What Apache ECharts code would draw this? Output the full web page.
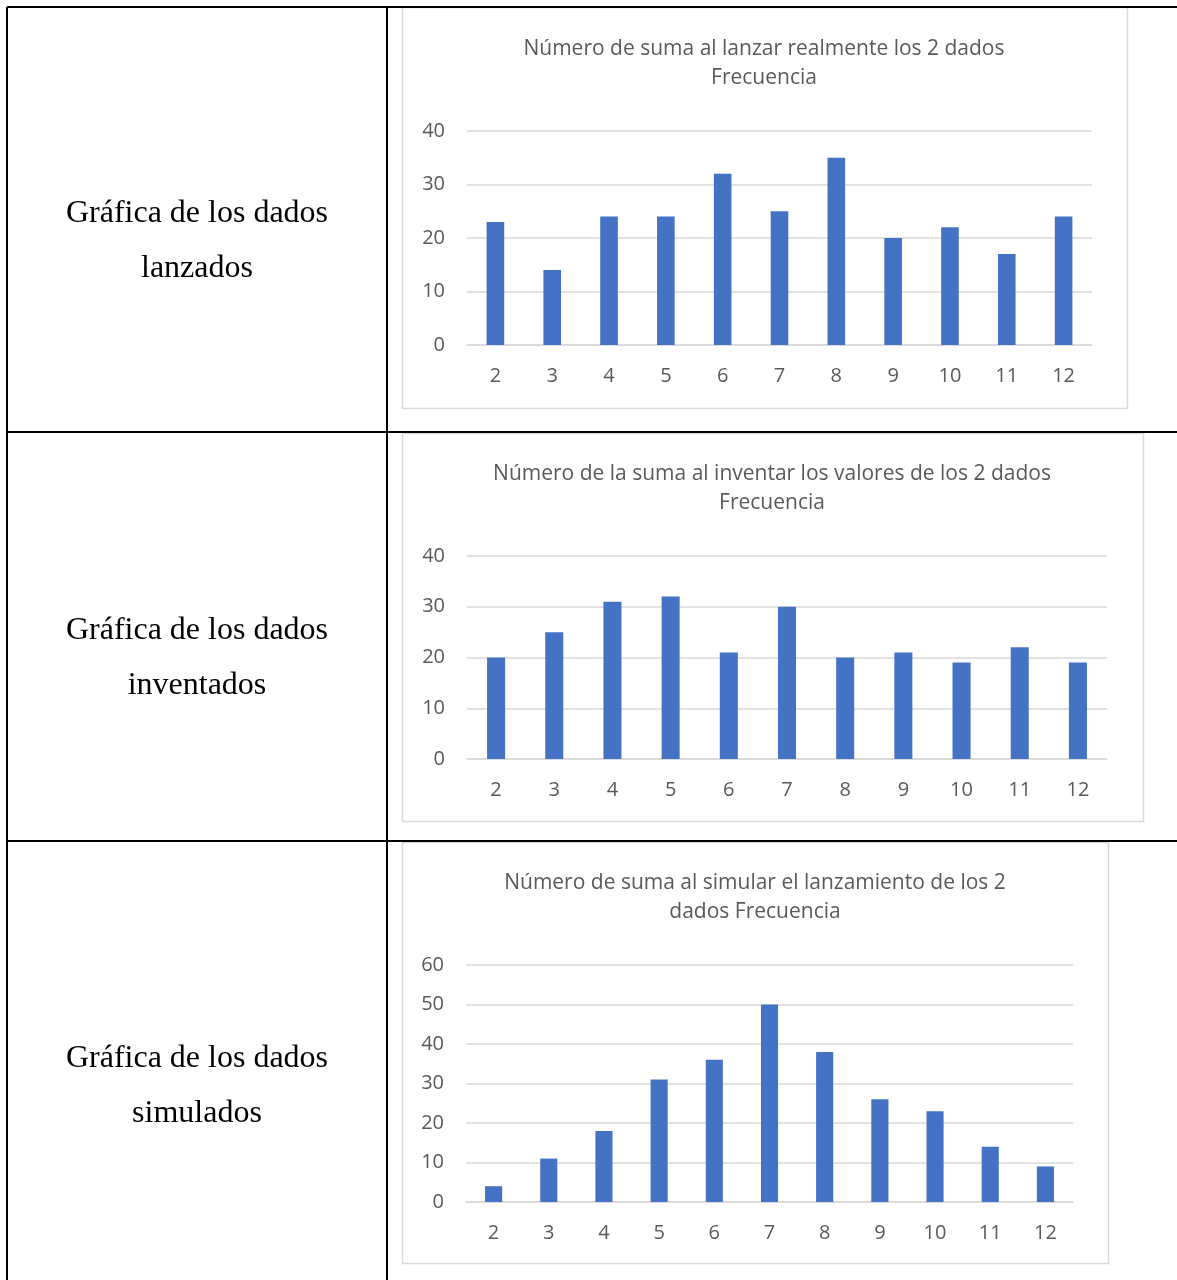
<!DOCTYPE html>
<html>
<head>
<meta charset="utf-8">
<title>Frecuencia de la suma de 2 dados</title>
<script src="https://cdn.jsdelivr.net/npm/echarts@6/dist/echarts.min.js"></script>
<style>
  html, body { margin: 0; padding: 0; background: #ffffff; }
  #chart { width: 1177px; height: 1280px; }
</style>
</head>
<body>
<div id="chart"></div>
<script>
// Sums of two dice (x categories)
const sums = ['2', '3', '4', '5', '6', '7', '8', '9', '10', '11', '12'];

// Frequencies per sum
const lanzados = [23, 14, 24, 24, 32, 25, 35, 20, 22, 17, 24];
const inventados = [20, 25, 31, 32, 21, 30, 20, 21, 19, 22, 19];
const simulados = [4, 11, 18, 31, 36, 50, 38, 26, 23, 14, 9];

// Chart titles
const titles = [
  'Número de suma al lanzar realmente los 2 dados\nFrecuencia',
  'Número de la suma al inventar los valores de los 2 dados\nFrecuencia',
  'Número de suma al simular el lanzamiento de los 2\ndados Frecuencia'
];

// Row captions in the left column
const captions = [
  'Gráfica de los dados\nlanzados',
  'Gráfica de los dados\ninventados',
  'Gráfica de los dados\nsimulados'
];

// Value axis ranges
const yMax = [40, 40, 60];
const yStep = 10;

const seriesData = [lanzados, inventados, simulados];

// Layout of each table row: chart frame, plot area and title anchor
const panels = [
  { frame: [402, 7, 725, 401], grid: { left: 467, top: 131, width: 625, height: 214 }, titleX: 764, titleY: 35, captionY: 241 },
  { frame: [402, 433, 741, 388], grid: { left: 467, top: 556, width: 640, height: 203 }, titleX: 772, titleY: 460, captionY: 658 },
  { frame: [402, 842, 706, 421], grid: { left: 466, top: 965, width: 607, height: 237 }, titleX: 755, titleY: 869, captionY: 1086 }
];

const uiFont = "'Open Sans', 'Noto Sans', sans-serif";
const textGrey = '#595959';
const gridGrey = '#d9d9d9';
const barBlue = '#4472C4';

const chart = echarts.init(document.getElementById('chart'), null, { renderer: 'canvas' });

const graphics = [];
// Table borders
const tableLines = [
  [7, 7, 1177, 7],
  [7, 432, 1177, 432],
  [7, 841, 1177, 841],
  [7, 7, 7, 1280],
  [387, 7, 387, 1280]
];
tableLines.forEach(function (l) {
  graphics.push({
    type: 'line', silent: true, z: 10,
    shape: { x1: l[0], y1: l[1], x2: l[2], y2: l[3] },
    style: { stroke: '#000000', lineWidth: 2 }
  });
});

panels.forEach(function (p, i) {
  // light frame around each chart
  graphics.push({
    type: 'rect', silent: true, z: 0,
    shape: { x: p.frame[0] + 0.5, y: p.frame[1] + 0.5, width: p.frame[2], height: p.frame[3] },
    style: { fill: '#ffffff', stroke: gridGrey, lineWidth: 1.5 }
  });
  // caption in the left column
  graphics.push({
    type: 'text', silent: true, z: 10,
    x: 197, y: p.captionY,
    style: {
      text: captions[i],
      font: "32px 'Times New Roman', 'Liberation Serif', serif",
      fill: '#000000',
      align: 'center',
      verticalAlign: 'middle',
      lineHeight: 55
    }
  });
});

const option = {
  animation: false,
  backgroundColor: '#ffffff',
  title: panels.map(function (p, i) {
    return {
      text: titles[i],
      left: p.titleX,
      top: p.titleY,
      textAlign: 'center',
      padding: 0,
      textStyle: {
        fontFamily: uiFont,
        fontSize: 21,
        fontWeight: 'normal',
        color: textGrey,
        lineHeight: 29
      }
    };
  }),
  grid: panels.map(function (p) {
    return Object.assign({ containLabel: false }, p.grid);
  }),
  xAxis: panels.map(function (p, i) {
    return {
      type: 'category',
      gridIndex: i,
      data: sums,
      axisLine: { show: true, lineStyle: { color: gridGrey, width: 1.5 } },
      axisTick: { show: false },
      axisLabel: { color: textGrey, fontFamily: uiFont, fontSize: 20, margin: 21 },
      splitLine: { show: false }
    };
  }),
  yAxis: panels.map(function (p, i) {
    return {
      type: 'value',
      gridIndex: i,
      min: 0,
      max: yMax[i],
      interval: yStep,
      axisLine: { show: false },
      axisTick: { show: false },
      axisLabel: { color: textGrey, fontFamily: uiFont, fontSize: 20, margin: 22 },
      splitLine: { show: true, lineStyle: { color: gridGrey, width: 1.5 } }
    };
  }),
  series: seriesData.map(function (d, i) {
    return {
      type: 'bar',
      name: 'Frecuencia',
      xAxisIndex: i,
      yAxisIndex: i,
      data: d,
      barWidth: '31%',
      itemStyle: { color: barBlue },
      z: 3
    };
  }),
  graphic: graphics
};

chart.setOption(option);
</script>
</body>
</html>
